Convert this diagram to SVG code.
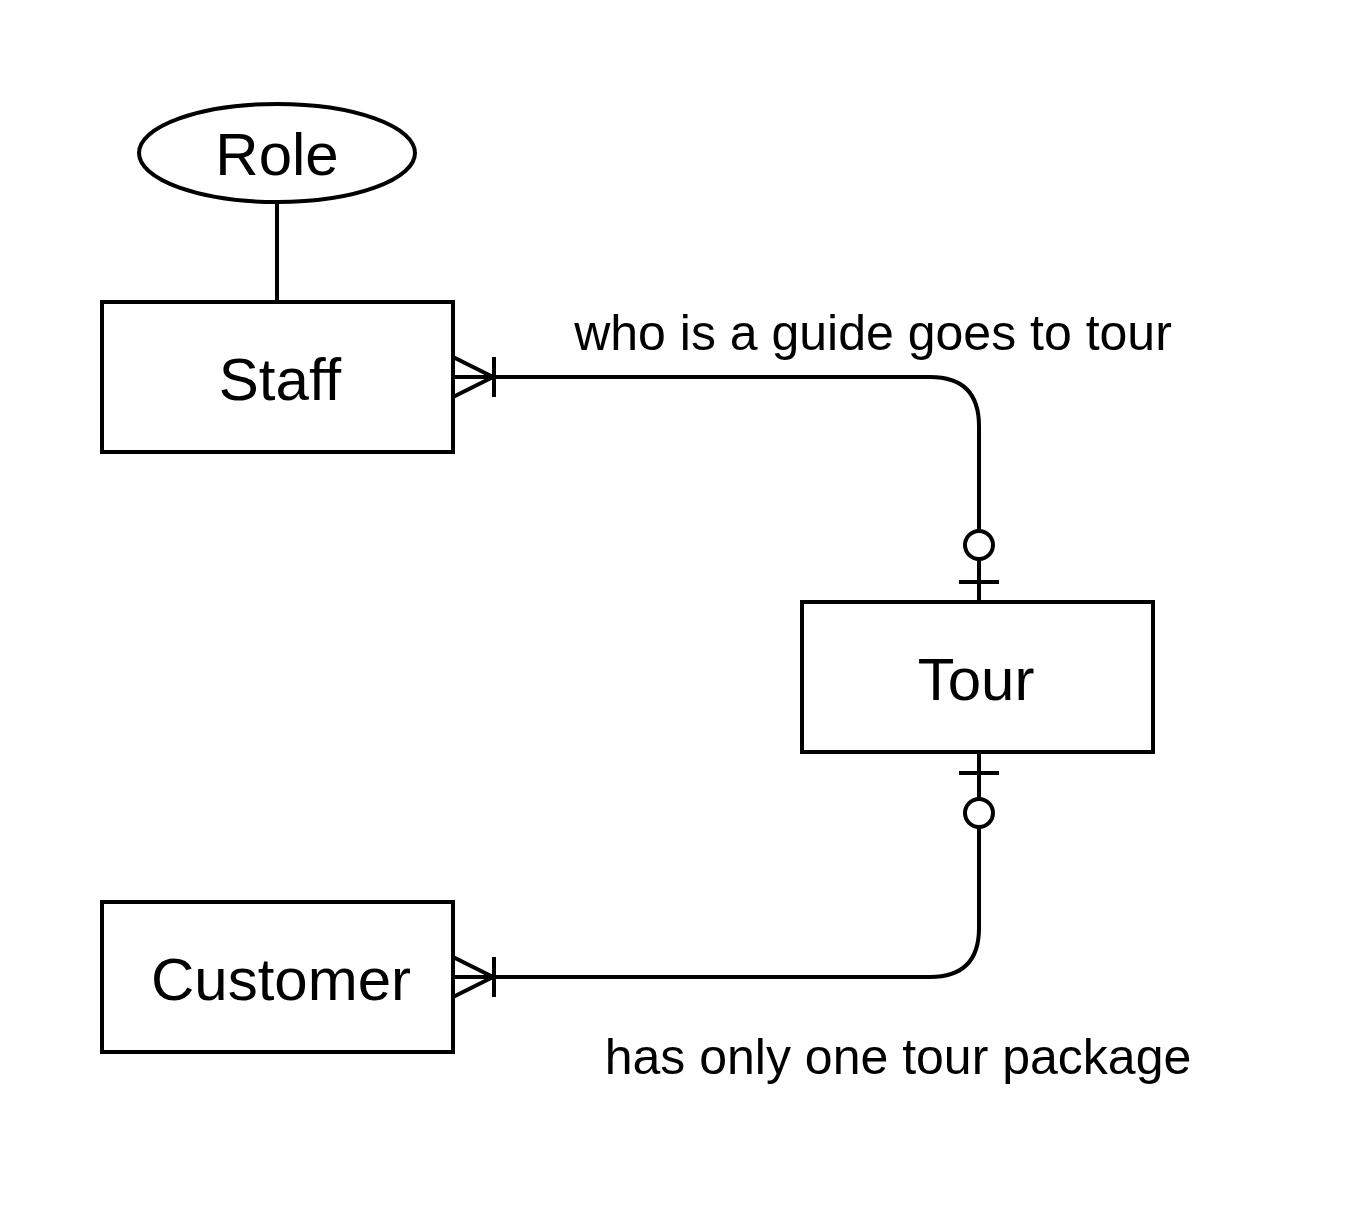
<svg xmlns="http://www.w3.org/2000/svg" width="1360" height="1210" viewBox="0 0 1360 1210">
<style>
.shape{fill:#fff;stroke:#000;stroke-width:4}
.line{fill:none;stroke:#000;stroke-width:4}
.ent{font-family:"Liberation Sans",Arial,sans-serif;font-size:60px;fill:#000;text-anchor:middle}
.lbl{font-family:"Liberation Sans",Arial,sans-serif;font-size:50px;fill:#000;text-anchor:middle}
</style>
<rect width="1360" height="1210" fill="#fff"/>
<g id="connectors">
<path class="line" d="M277 202 L277 302"/>
<path class="line" d="M453 377 L930 377 Q979 377 979 426 L979 602"/>
<path class="line" d="M453 357 L493 377 L453 397 M494 357 L494 397"/>
<path class="line" d="M959 582 L999 582"/>
<circle class="shape" cx="979" cy="545" r="14"/>
<path class="line" d="M453 977 L930 977 Q979 977 979 928 L979 752"/>
<path class="line" d="M453 957 L493 977 L453 997 M494 957 L494 997"/>
<path class="line" d="M959 773 L999 773"/>
<circle class="shape" cx="979" cy="813" r="14"/>
<text class="lbl" x="873" y="350">who is a guide goes to tour</text>
<text class="lbl" x="898" y="1074">has only one tour package</text>
</g>
<g id="role">
<ellipse class="shape" cx="277" cy="153" rx="138" ry="49"/>
<text class="ent" x="277" y="175">Role</text>
</g>
<g id="staff">
<rect class="shape" x="102" y="302" width="351" height="150"/>
<text class="ent" x="280" y="400">Staff</text>
</g>
<g id="tour">
<rect class="shape" x="802" y="602" width="351" height="150"/>
<text class="ent" x="976" y="700">Tour</text>
</g>
<g id="customer">
<rect class="shape" x="102" y="902" width="351" height="150"/>
<text class="ent" x="281" y="1000">Customer</text>
</g>
</svg>
